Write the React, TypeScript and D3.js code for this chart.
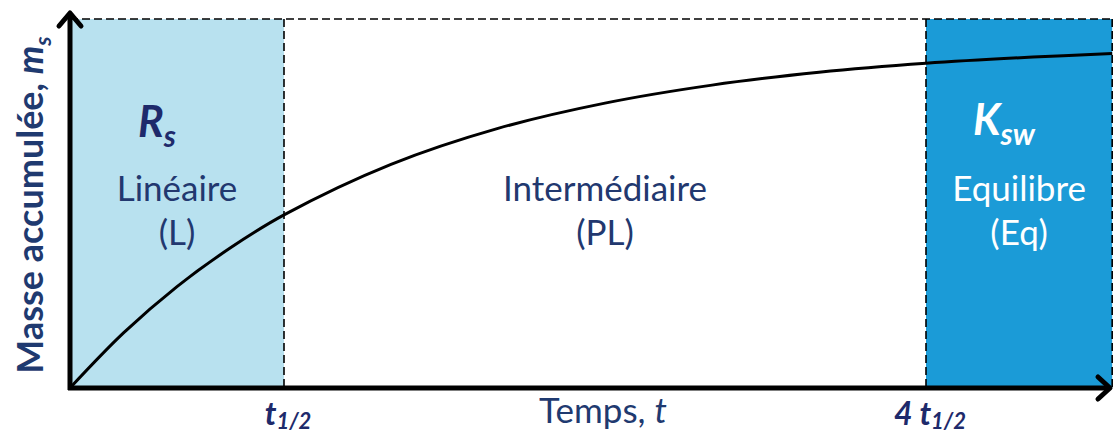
import React from 'react';
import * as d3 from 'd3';

// time in units of t1/2, accumulated mass as a fraction of the equilibrium mass
const curveT = [0, 0.25, 0.5, 0.75, 1, 1.5, 2, 2.5, 3, 3.5, 4, 4.5, 4.87];
const curveM = [0, 0.159, 0.293, 0.405, 0.5, 0.646, 0.75, 0.823, 0.875, 0.912, 0.938, 0.956, 0.966];

const regionNames = ['Linéaire', 'Intermédiaire', 'Equilibre'];
const regionCodes = ['(L)', '(PL)', '(Eq)'];
const regionStart = [0, 1, 4];
const regionEnd = [1, 4, 4.87];
const regionFill = ['#b8e1ef', '#ffffff', '#1b9bd7'];
const regionText = ['#22386f', '#22386f', '#ffffff'];

const tickValues = [1, 4];
const tickPrefix = ['', '4 '];

const W = 1114;
const H = 434;
const font = 'Lato, "Open Sans", sans-serif';
const navy = '#1e2a6b';

export default function App() {
  const x = d3.scaleLinear().domain([0, 4]).range([70, 926]);
  const y = d3.scaleLinear().domain([0, 1.066]).range([388, 19]);
  const x0 = x(0);
  const y0 = y(0);
  const xEnd = x(regionEnd[2]);
  const yTop = y(1.066);

  const pts: [number, number][] = curveT.map((t, i) => [x(t), y(curveM[i])]);
  const line = d3.line().curve(d3.curveCatmullRom.alpha(0.5))(pts) || '';

  return (
    <svg width={W} height={H} style={{ position: 'absolute', left: 0, top: 0 }} fontFamily={font}>
      <rect width={W} height={H} fill="#fff" />
      {regionStart.map((s, i) => (
        <rect key={i} x={x(s)} y={yTop} width={x(regionEnd[i]) - x(s)} height={y0 - yTop} fill={regionFill[i]} />
      ))}
      {/* dashed frame */}
      <line x1={x0} x2={xEnd} y1={yTop} y2={yTop} stroke="#000" strokeWidth={1.6} strokeDasharray="8,4" />
      {[1, 4, regionEnd[2]].map((t, i) => (
        <line key={i} x1={x(t)} x2={x(t)} y1={yTop} y2={y0} stroke="#000" strokeWidth={1.6} strokeDasharray="8,4" />
      ))}
      {/* curve */}
      <path d={line} fill="none" stroke="#000" strokeWidth={3} />
      {/* axes */}
      <line x1={x0} x2={x0} y1={y0 + 2} y2={13} stroke="#000" strokeWidth={5} />
      <polyline points={`${x0 - 11},${26} ${x0},${13} ${x0 + 11},${26}`} fill="none" stroke="#000" strokeWidth={5} strokeLinecap="round" strokeLinejoin="round" />
      <line x1={x0 - 2} x2={1110} y1={y0} y2={y0} stroke="#000" strokeWidth={5} />
      <polyline points={`${1098},${y0 - 11} ${1110},${y0} ${1098},${y0 + 11}`} fill="none" stroke="#000" strokeWidth={5} strokeLinecap="round" strokeLinejoin="round" />
      {/* region labels */}
      {regionStart.map((s, i) => {
        const cx = (x(s) + x(regionEnd[i])) / 2;
        return (
          <g key={i} fill={regionText[i]} fontSize={35} textAnchor="middle">
            <text x={cx} y={201}>{regionNames[i]}</text>
            <text x={cx} y={245}>{regionCodes[i]}</text>
          </g>
        );
      })}
      <text x={138} y={137} fill={navy} fontSize={43} fontWeight="bold" fontStyle="italic">
        R<tspan fontSize={30} dy={10}>s</tspan>
      </text>
      <text x={973} y={135} fill="#fff" fontSize={43} fontWeight="bold" fontStyle="italic">
        K<tspan fontSize={30} dy={10}>sw</tspan>
      </text>
      {/* ticks */}
      {tickValues.map((t, i) => (
        <text key={i} x={x(t) + 4} y={425} textAnchor="middle" fill={navy} fontSize={32} fontWeight="bold" fontStyle="italic">
          {tickPrefix[i]}t<tspan fontSize={22} dy={4}>1/2</tspan>
        </text>
      ))}
      {/* axis titles */}
      <text x={603} y={423} textAnchor="middle" fill="#1f3a70" fontSize={35}>
        Temps, <tspan fontStyle="italic">t</tspan>
      </text>
      <text transform={`translate(43,205) rotate(-90)`} textAnchor="middle" fill="#1f3a70" fontSize={36} fontWeight="bold">
        Masse accumulée, <tspan fontStyle="italic">m</tspan><tspan fontStyle="italic" fontSize={23} dy={8}>s</tspan>
      </text>
    </svg>
  );
}
